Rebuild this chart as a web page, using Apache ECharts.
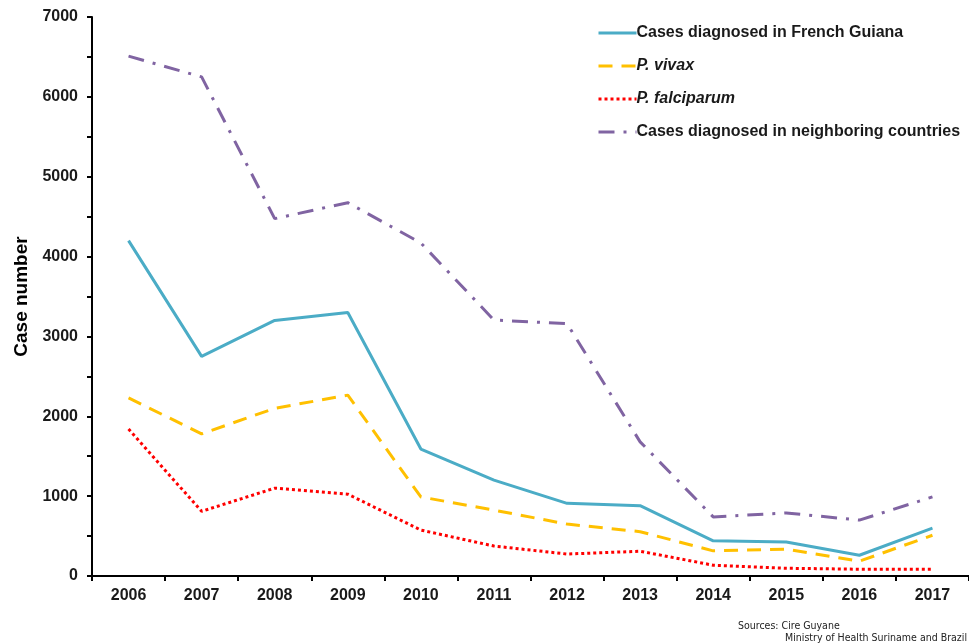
<!DOCTYPE html>
<html>
<head>
<meta charset="utf-8">
<script src="https://cdn.jsdelivr.net/npm/echarts@6/dist/echarts.min.js"></script>
<style>
  html, body { margin: 0; padding: 0; background: #fff; }
  #main { width: 969px; height: 644px; }
</style>
</head>
<body>
<div id="main"></div>
<script>
'use strict';

// years on the x axis
const years = ['2006', '2007', '2008', '2009', '2010', '2011', '2012', '2013', '2014', '2015', '2016', '2017'];

// case counts
const frenchGuiana = [4200, 2750, 3200, 3300, 1590, 1200, 910, 880, 440, 425, 260, 600];
const vivax = [2230, 1780, 2100, 2265, 990, 825, 650, 555, 315, 335, 185, 510];
const falciparum = [1840, 810, 1100, 1025, 575, 375, 275, 310, 135, 97, 85, 85];
const neighboring = [6510, 6250, 4475, 4675, 4170, 3205, 3160, 1680, 740, 790, 700, 990];

const seriesNames = [
    'Cases diagnosed in French Guiana',
    'P. vivax',
    'P. falciparum',
    'Cases diagnosed in neighboring countries'
];

let myChart = echarts.init(document.getElementById('main'), null, {renderer: 'canvas'});

function lineSeries(name, data, color, type) {
    return {
        name: name,
        type: 'line',
        data: data,
        symbol: 'none',
        smooth: false,
        lineStyle: {color: color, width: 3, type: type, cap: 'butt'},
        itemStyle: {color: color}
    };
}

let option = {
    animation: false,
    backgroundColor: '#fff',
    grid: {left: 92, right: 0, top: 17, bottom: 68, containLabel: false},
    legend: {
        orient: 'vertical',
        left: 592,
        top: 20,
        itemGap: 17,
        itemWidth: 38,
        itemHeight: 18,
        data: seriesNames,
        itemStyle: {color: 'rgba(0,0,0,0)', borderWidth: 0, opacity: 0},
        lineStyle: {width: 3},
        formatter: function (name) {
            return name.indexOf('P.') === 0 ? '{i|' + name + '}' : name;
        },
        textStyle: {
            fontFamily: 'Liberation Sans, Arial, sans-serif',
            fontSize: 16,
            fontWeight: 'bold',
            color: '#1a1a1a',
            padding: [0, 0, 0, -5],
            rich: {
                i: {
                    fontFamily: 'Liberation Sans, Arial, sans-serif',
                    fontSize: 16,
                    fontWeight: 'bold',
                    fontStyle: 'italic',
                    color: '#1a1a1a'
                }
            }
        }
    },
    xAxis: {
        type: 'category',
        data: years,
        boundaryGap: true,
        axisLine: {lineStyle: {color: '#000', width: 2}},
        axisTick: {show: true, length: 5, inside: false, lineStyle: {color: '#000', width: 2}},
        axisLabel: {
            margin: 12,
            fontFamily: 'Liberation Sans, Arial, sans-serif',
            fontSize: 16,
            fontWeight: 'bold',
            color: '#1a1a1a'
        },
        splitLine: {show: false}
    },
    yAxis: {
        type: 'value',
        min: 0,
        max: 7000,
        interval: 500,
        name: 'Case number',
        nameLocation: 'middle',
        nameGap: 59,
        nameTextStyle: {
            fontFamily: 'Liberation Sans, Arial, sans-serif',
            fontSize: 19,
            fontWeight: 'bold',
            color: '#000'
        },
        axisLine: {show: true, lineStyle: {color: '#000', width: 2}},
        axisTick: {show: true, length: 5, lineStyle: {color: '#000', width: 2}},
        axisLabel: {
            margin: 14,
            fontFamily: 'Liberation Sans, Arial, sans-serif',
            fontSize: 16,
            fontWeight: 'bold',
            color: '#1a1a1a',
            formatter: function (v) {
                return v % 1000 === 0 ? String(v) : '';
            }
        },
        splitLine: {show: false}
    },
    graphic: [
        {
            type: 'text',
            left: 738,
            top: 621,
            style: {
                text: 'Sources: Cire Guyane',
                font: '10.5px "DejaVu Sans Condensed", "DejaVu Sans", sans-serif',
                fill: '#222'
            }
        },
        {
            type: 'text',
            left: 785,
            top: 633,
            style: {
                text: 'Ministry of Health Suriname and Brazil',
                font: '10.5px "DejaVu Sans Condensed", "DejaVu Sans", sans-serif',
                fill: '#222'
            }
        }
    ],
    series: [
        lineSeries(seriesNames[0], frenchGuiana, '#4bacc6', 'solid'),
        lineSeries(seriesNames[1], vivax, '#ffc000', [14, 9]),
        lineSeries(seriesNames[2], falciparum, '#ff0000', [3, 3]),
        lineSeries(seriesNames[3], neighboring, '#8064a2', [16, 9, 3, 9])
    ]
};

myChart.setOption(option);
</script>
</body>
</html>
